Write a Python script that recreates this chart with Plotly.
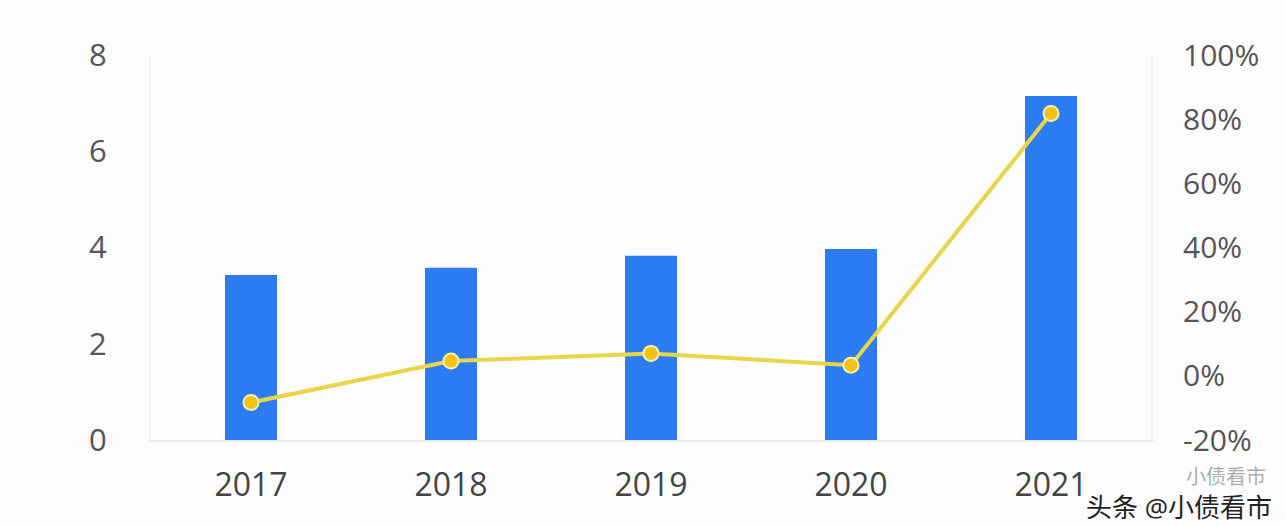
import plotly.graph_objects as go

years = ["2017", "2018", "2019", "2020", "2021"]
bar_values = [3.43, 3.58, 3.83, 3.97, 7.15]
growth_pct = [-8.3, 4.6, 7.0, 3.3, 81.8]
left_ticks = [0, 2, 4, 6, 8]
right_ticks = [-20, 0, 20, 40, 60, 80, 100]
right_tick_text = [f"{v}%" for v in right_ticks]

fig = go.Figure()
fig.add_trace(go.Bar(
    x=years, y=bar_values, width=0.26,
    marker=dict(color="#2d7cf4", line=dict(width=0)),
    yaxis="y", showlegend=False,
))
fig.add_trace(go.Scatter(
    x=years, y=growth_pct, yaxis="y2", mode="lines+markers",
    line=dict(color="#e9d44a", width=4),
    marker=dict(size=15, color="#f2c21a", line=dict(color="#fff1a8", width=2)),
    showlegend=False,
))

font_family = "Open Sans, Noto Sans CJK SC, sans-serif"
fig.update_layout(
    width=1286, height=526,
    margin=dict(l=151, r=135, t=55, b=86),
    paper_bgcolor="#fdfdfd", plot_bgcolor="#fdfdfd",
    font=dict(family=font_family, color="#555555"),
    xaxis=dict(
        type="category", showgrid=False, showline=True, linecolor="#e8e8e8", linewidth=2,
        tickfont=dict(size=32, color="#444444"), ticks="", ticklabelstandoff=16,
        zeroline=False,
    ),
    yaxis=dict(
        range=[0, 8], tickvals=left_ticks, showgrid=False, zeroline=False,
        showline=True, linecolor="#f2f2f2", linewidth=2,
        tickfont=dict(size=31, color="#555555"), ticks="", ticklabelstandoff=36,
    ),
    yaxis2=dict(
        range=[-20, 100], tickvals=right_ticks, ticktext=right_tick_text, overlaying="y",
        side="right", showgrid=False, zeroline=False,
        showline=True, linecolor="#f2f2f2", linewidth=2,
        tickfont=dict(size=30, color="#555555"), ticks="", ticklabelstandoff=24,
    ),
)

fig.add_annotation(
    text="小债看市", xref="paper", yref="paper", x=1.075, y=-0.095,
    xanchor="center", yanchor="middle", showarrow=False,
    font=dict(size=20, color="rgba(90,90,90,0.5)", family=font_family),
)
fig.add_annotation(
    text="头条 @小债看市", xref="paper", yref="paper", x=1.122, y=-0.223,
    xanchor="right", yanchor="bottom", showarrow=False,
    bgcolor="rgba(255,255,255,0.0)", borderpad=0,
    font=dict(size=26, color="#222222", family=font_family),
)

fig.write_html("out.html")
